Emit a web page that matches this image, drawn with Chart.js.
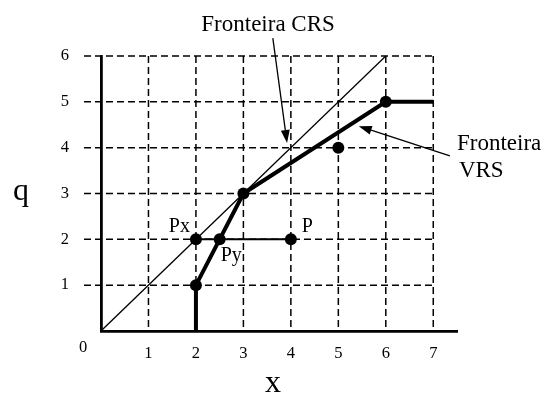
<!DOCTYPE html>
<html lang="pt">
<head>
  <meta charset="UTF-8">
  <title>Fronteiras CRS e VRS</title>
  <style>
    body { margin: 0; background: #fff; }
    .grafico { width: 542px; height: 394px; }
  </style>
  <script src="https://cdn.jsdelivr.net/npm/chart.js"></script>
</head>
<body>
<div class="grafico"><canvas id="fronteiras"></canvas></div>
<script>
  // Valores dos eixos
  const xTicks = [1, 2, 3, 4, 5, 6, 7];
  const yTicks = [1, 2, 3, 4, 5, 6];

  // Fronteira CRS (retornos constantes): reta pela origem
  const crsX = [0, 6];
  const crsY = [0, 6];

  // Fronteira VRS (retornos variáveis)
  const vrsX = [2, 2, 3, 6, 7];
  const vrsY = [0, 1, 3, 5, 5];

  // DMUs observadas
  const dmuX = [2, 3, 5, 6];
  const dmuY = [1, 3, 4, 5];

  // Ponto P e suas projeções Px (CRS) e Py (VRS)
  const projNomes = ['Px', 'Py', 'P'];
  const projX = [2, 2.5, 4];
  const projY = [2, 2, 2];

  const pares = (xs, ys) => xs.map((v, i) => ({ x: v, y: ys[i] }));

  const fonte = 'Liberation Serif, Times New Roman, serif';

  // Grade tracejada: só até x = 7 e y = 6
  const gradeTracejada = {
    id: 'gradeTracejada',
    beforeDatasetsDraw(chart) {
      const { ctx, scales: { x, y } } = chart;
      const xFim = x.getPixelForValue(xTicks[xTicks.length - 1]);
      const yFim = y.getPixelForValue(yTicks[yTicks.length - 1]);
      const yZero = y.getPixelForValue(0);
      ctx.save();
      ctx.strokeStyle = '#000';
      ctx.lineWidth = 1.5;
      ctx.setLineDash([7, 4]);
      yTicks.forEach(v => {
        const py = y.getPixelForValue(v);
        ctx.beginPath();
        ctx.moveTo(x.left - 17, py);
        ctx.lineTo(xFim, py);
        ctx.stroke();
      });
      xTicks.forEach(v => {
        const px = x.getPixelForValue(v);
        ctx.beginPath();
        ctx.moveTo(px, yFim);
        ctx.lineTo(px, yZero);
        ctx.stroke();
      });
      ctx.restore();
    }
  };

  function seta(ctx, x0, y0, x1, y1) {
    const ang = Math.atan2(y1 - y0, x1 - x0);
    const comp = 13, larg = 4.5;
    ctx.beginPath();
    ctx.moveTo(x0, y0);
    ctx.lineTo(x1 - comp * Math.cos(ang), y1 - comp * Math.sin(ang));
    ctx.stroke();
    ctx.beginPath();
    ctx.moveTo(x1, y1);
    ctx.lineTo(x1 - comp * Math.cos(ang) + larg * Math.sin(ang), y1 - comp * Math.sin(ang) - larg * Math.cos(ang));
    ctx.lineTo(x1 - comp * Math.cos(ang) - larg * Math.sin(ang), y1 - comp * Math.sin(ang) + larg * Math.cos(ang));
    ctx.closePath();
    ctx.fill();
  }

  // Rótulos, títulos dos eixos e setas indicando as fronteiras
  const anotacoes = {
    id: 'anotacoes',
    afterDatasetsDraw(chart) {
      const { ctx, scales: { x, y } } = chart;
      const px = v => x.getPixelForValue(v);
      const py = v => y.getPixelForValue(v);
      ctx.save();
      ctx.fillStyle = '#000';
      ctx.strokeStyle = '#000';
      ctx.textBaseline = 'alphabetic';

      // nomes dos pontos
      ctx.font = '20px ' + fonte;
      ctx.textAlign = 'right';
      ctx.fillText(projNomes[0], px(projX[0]) - 6, py(projY[0]) - 7);
      ctx.textAlign = 'left';
      ctx.fillText(projNomes[1], px(projX[1]) + 1, py(projY[1]) + 22);
      ctx.fillText(projNomes[2], px(projX[2]) + 11, py(projY[2]) - 7);

      // títulos das fronteiras
      ctx.font = '23px ' + fonte;
      ctx.textAlign = 'center';
      ctx.fillText('Fronteira CRS', px(3.52), py(6.55));
      ctx.textAlign = 'left';
      ctx.fillText('Fronteira', px(7.5), py(3.95));
      ctx.fillText('VRS', px(7.54), py(3.36));

      ctx.lineWidth = 1.3;
      seta(ctx, px(3.62), py(6.39), px(3.92), py(4.1));
      seta(ctx, px(7.35), py(3.82), px(5.43), py(4.47));

      // origem e títulos dos eixos
      ctx.font = '16.5px ' + fonte;
      ctx.textAlign = 'center';
      ctx.fillText('0', x.left - 18, y.bottom + 21);
      ctx.font = '32px ' + fonte;
      ctx.fillText('q', 21, py(3) + 6);
      ctx.fillText('x', 273, 392);
      ctx.restore();
    }
  };

  const eixo = {
    border: { display: true, color: '#000', width: 2.8 },
    grid: { display: false, drawTicks: false },
    ticks: { color: '#000', font: { family: fonte, size: 16.5 } }
  };

  new Chart(document.getElementById('fronteiras'), {
    type: 'scatter',
    data: {
      datasets: [
        {
          data: pares(crsX, crsY),
          showLine: true,
          borderColor: '#000',
          borderWidth: 1.3,
          pointRadius: 0
        },
        {
          data: pares(vrsX, vrsY),
          showLine: true,
          borderColor: '#000',
          borderWidth: 4,
          pointRadius: 0
        },
        {
          data: pares(projX, projY),
          showLine: true,
          borderColor: '#000',
          borderWidth: 2,
          pointRadius: 6,
          pointBackgroundColor: '#000',
          pointBorderWidth: 0
        },
        {
          data: pares(dmuX, dmuY),
          pointRadius: 6,
          pointBackgroundColor: '#000',
          pointBorderWidth: 0
        }
      ]
    },
    options: {
      responsive: true,
      maintainAspectRatio: false,
      animation: false,
      layout: { padding: { top: 56, right: 85, left: 0, bottom: 0 } },
      plugins: { legend: { display: false }, tooltip: { enabled: false } },
      scales: {
        x: {
          ...eixo,
          min: 0,
          max: 7.5,
          afterFit: s => { s.height = 63; },
          afterBuildTicks: s => { s.ticks = xTicks.map(v => ({ value: v })); },
          ticks: { ...eixo.ticks, padding: 13 }
        },
        y: {
          ...eixo,
          min: 0,
          max: 6,
          afterFit: s => { s.width = 101; },
          afterBuildTicks: s => { s.ticks = yTicks.map(v => ({ value: v })); },
          ticks: { ...eixo.ticks, padding: 32 }
        }
      }
    },
    plugins: [gradeTracejada, anotacoes]
  });
</script>
</body>
</html>
